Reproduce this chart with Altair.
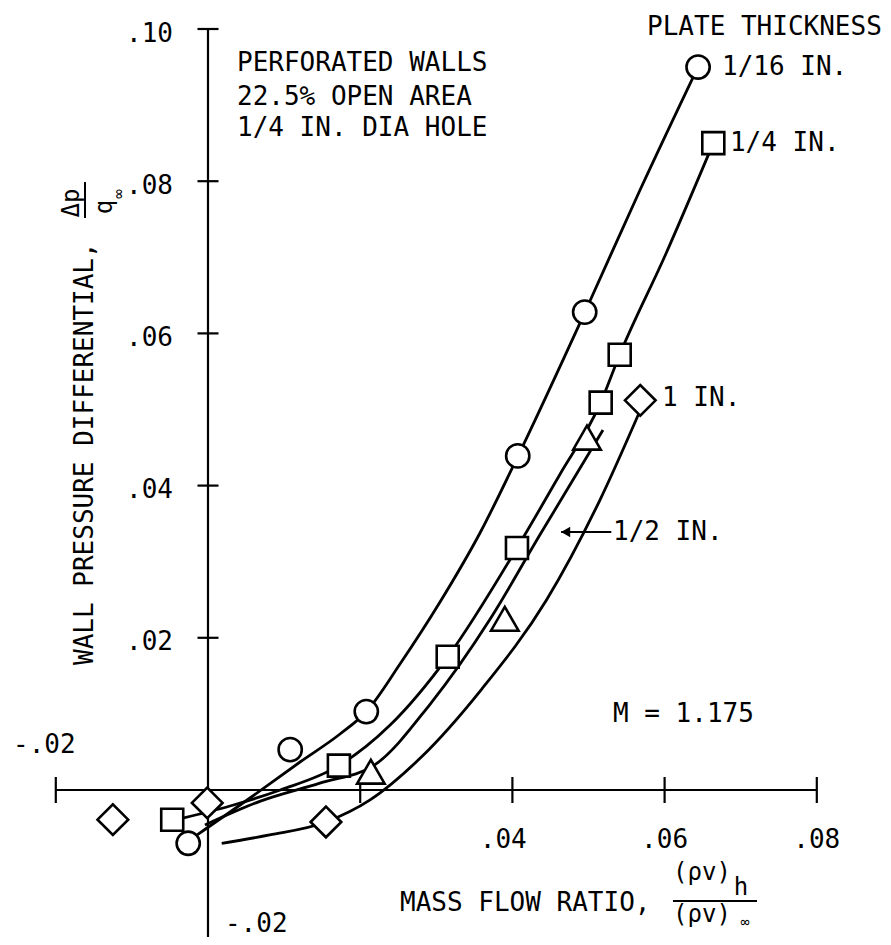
import altair as alt
import pandas as pd

# ---------------- data ----------------
circle_x = [-0.0026, 0.0108, 0.0208, 0.0407, 0.0495, 0.0644]
circle_y = [-0.0070, 0.0053, 0.0103, 0.0439, 0.0628, 0.0950]

square_x = [-0.0047, 0.0172, 0.0315, 0.0406, 0.0516, 0.0541, 0.0664]
square_y = [-0.0039, 0.0032, 0.0175, 0.0318, 0.0509, 0.0572, 0.0850]

triangle_x = [0.0214, 0.0390, 0.0498]
triangle_y = [0.0024, 0.0225, 0.0463]

diamond_x = [-0.0125, -0.0001, 0.0155, 0.0568]
diamond_y = [-0.0039, -0.0017, -0.0042, 0.0512]

# faired curves
c16_x = [-0.00145, 0.00552, 0.01209, 0.01735, 0.02076, 0.02523, 0.03049, 0.03574, 0.04074, 0.04954, 0.05677, 0.06439]
c16_y = [-0.00591, -0.00105, 0.00368, 0.00736, 0.01025, 0.01656, 0.02470, 0.03377, 0.04389, 0.06281, 0.07884, 0.09501]

c4_x = [-0.0033, 0.0029, 0.0095, 0.0172, 0.0239, 0.0315, 0.0406, 0.0462, 0.0516, 0.0541, 0.0601, 0.0664]
c4_y = [-0.0037, -0.0021, 0.0000, 0.0032, 0.0085, 0.0175, 0.0318, 0.0414, 0.0509, 0.0572, 0.0703, 0.0850]

c2_x = [-0.0004, 0.0068, 0.0147, 0.0219, 0.0292, 0.0371, 0.0436, 0.0519]
c2_y = [-0.0046, -0.0015, 0.0009, 0.0033, 0.0113, 0.0225, 0.0335, 0.0473]

c1_x = [0.0018, 0.0081, 0.0155, 0.0213, 0.0279, 0.0360, 0.0445, 0.0515, 0.0568]
c1_y = [-0.0070, -0.0059, -0.0042, -0.0013, 0.0042, 0.0133, 0.0250, 0.0381, 0.0499]

x_ticks = [-0.02, 0.02, 0.04, 0.06, 0.08]
y_ticks = [-0.02, 0.02, 0.04, 0.06, 0.08, 0.10]
x_tick_labels = [".04", ".06", ".08"]
x_tick_label_vals = [0.04, 0.06, 0.08]
y_tick_labels = [".10", ".08", ".06", ".04", ".02"]
y_tick_label_vals = [0.10, 0.08, 0.06, 0.04, 0.02]

# ---------------- view ----------------
X_DOM = [-0.026281, 0.088699]
Y_DOM = [-0.019317, 0.102759]
W, H = 875, 929
FONT = "DejaVu Sans Mono"

xs = alt.Scale(domain=X_DOM, nice=False, zero=False)
ys = alt.Scale(domain=Y_DOM, nice=False, zero=False)


def X(f="x"):
    return alt.X(f"{f}:Q", scale=xs, axis=None)


def Y(f="y"):
    return alt.Y(f"{f}:Q", scale=ys, axis=None)


# curves
rows = []
for name, cx, cy in [("c16", c16_x, c16_y), ("c4", c4_x, c4_y), ("c2", c2_x, c2_y), ("c1", c1_x, c1_y)]:
    for i, (a, b) in enumerate(zip(cx, cy)):
        rows.append({"series": name, "x": a, "y": b, "i": i})
curves = alt.Chart(pd.DataFrame(rows)).mark_line(
    color="black", strokeWidth=2.8, interpolate="monotone"
).encode(x=X(), y=Y(), detail="series:N", order="i:Q")

# axes
xaxis = alt.Chart(pd.DataFrame({"x": [x_ticks[0]], "x2": [x_ticks[-1]], "y": [0.0]})).mark_rule(
    color="black", strokeWidth=2.2
).encode(x=X(), x2="x2:Q", y=Y())
yaxis = alt.Chart(pd.DataFrame({"x": [0.0], "y": [y_ticks[0]], "y2": [y_ticks[-1]]})).mark_rule(
    color="black", strokeWidth=2.2
).encode(x=X(), y=Y(), y2="y2:Q")
xt = alt.Chart(pd.DataFrame({"x": x_ticks, "y": [0.0] * len(x_ticks)})).mark_tick(
    orient="vertical", size=26, thickness=2.2, color="black", opacity=1
).encode(x=X(), y=Y())
yt = alt.Chart(pd.DataFrame({"x": [0.0] * len(y_ticks), "y": y_ticks})).mark_tick(
    orient="horizontal", size=21, thickness=2.2, color="black", opacity=1
).encode(x=X(), y=Y())


def pts(xv, yv, shape, size):
    return alt.Chart(pd.DataFrame({"x": xv, "y": yv})).mark_point(
        shape=shape, size=size, filled=False, fill="white", fillOpacity=1,
        stroke="black", strokeWidth=2.6, opacity=1
    ).encode(x=X(), y=Y())


p_circ = pts(circle_x, circle_y, "circle", 540)
p_sq = pts(square_x, square_y, "square", 484)
p_tri = pts(triangle_x, triangle_y, "triangle-up", 760)
p_dia = pts(diamond_x, diamond_y, "diamond", 940)

# texts
left_txt = pd.DataFrame([
    {"t": "PLATE THICKNESS", "x": 0.05769, "y": 0.10026, "s": 26},
    {"t": "1/16 IN.", "x": 0.06754, "y": 0.09501, "s": 26},
    {"t": "1/4 IN.", "x": 0.06859, "y": 0.08502, "s": 26},
    {"t": "PERFORATED WALLS", "x": 0.00381, "y": 0.09553, "s": 26},
    {"t": "22.5% OPEN AREA", "x": 0.00381, "y": 0.09106, "s": 26},
    {"t": "1/4 IN. DIA HOLE", "x": 0.00381, "y": 0.08699, "s": 26},
    {"t": "1 IN.", "x": 0.05966, "y": 0.05151, "s": 26},
    {"t": "1/2 IN.", "x": 0.05322, "y": 0.03390, "s": 26},
    {"t": "M = 1.175", "x": 0.05322, "y": 0.01000, "s": 26},
    {"t": "-.02", "x": -0.02562, "y": 0.00591, "s": 26},
    {"t": "-.02", "x": 0.00223, "y": -0.01761, "s": 26},
    {"t": "MASS FLOW RATIO,", "x": 0.02523, "y": -0.01485, "s": 26},
])
right_txt = pd.DataFrame({"t": y_tick_labels, "x": [-0.0046] * 5,
                          "y": [v - 0.0006 for v in y_tick_label_vals], "s": [26] * 5})
center_txt = pd.DataFrame(
    [{"t": t, "x": v - 0.0012 if v < 0.05 else v, "y": -0.00657, "s": 26}
     for t, v in zip(x_tick_labels, x_tick_label_vals)] +
    [
        {"t": "(ρv)", "x": 0.06491, "y": -0.01091, "s": 24},
        {"t": "h", "x": 0.07004, "y": -0.01288, "s": 24},
        {"t": "(ρv)", "x": 0.06491, "y": -0.01643, "s": 24},
        {"t": "∞", "x": 0.07057, "y": -0.01735, "s": 15},
    ]
)
rot_left = pd.DataFrame([
    {"t": "WALL PRESSURE DIFFERENTIAL,", "x": -0.01616, "y": 0.01643, "s": 26},
])
rot_center = pd.DataFrame([
    {"t": "Δp", "x": -0.01787, "y": 0.07713, "s": 24},
    {"t": "q", "x": -0.01353, "y": 0.07661, "s": 24},
    {"t": "∞", "x": -0.01170, "y": 0.07832, "s": 16},
])


def txt(df, align, angle=0):
    return alt.Chart(df).mark_text(
        align=align, baseline="middle", font=FONT, color="black", angle=angle
    ).encode(x=X(), y=Y(), text="t:N", size=alt.Size("s:Q", scale=None))


t_left = txt(left_txt, "left")
t_right = txt(right_txt, "right")
t_center = txt(center_txt, "center")
t_rot = txt(rot_left, "left", 270)
t_rotc = txt(rot_center, "center", 270)

# fraction bars and the 1/2 IN. pointer
bars = alt.Chart(pd.DataFrame([
    {"x": 0.06110, "x2": 0.07214, "y": -0.01459, "y2": -0.01459},
    {"x": -0.01616, "x2": -0.01616, "y": 0.07989, "y2": 0.07516},
    {"x": 0.05300, "x2": 0.04640, "y": 0.03390, "y2": 0.03390},
])).mark_rule(color="black", strokeWidth=2).encode(x=X(), x2="x2:Q", y=Y(), y2="y2:Q")
arrow = alt.Chart(pd.DataFrame({"x": [0.04700], "y": [0.03390]})).mark_point(
    shape="triangle-left", size=110, filled=True, color="black", opacity=1
).encode(x=X(), y=Y())

chart = alt.layer(
    xaxis, yaxis, xt, yt, curves, bars, arrow,
    p_circ, p_sq, p_tri, p_dia,
    t_left, t_right, t_center, t_rot, t_rotc,
).properties(
    width=W, height=H, padding=0, autosize=alt.AutoSizeParams(type="none"),
    background="white"
).configure_view(stroke=None)

chart.save("out.html", embed_options={"renderer": "svg", "actions": False})
